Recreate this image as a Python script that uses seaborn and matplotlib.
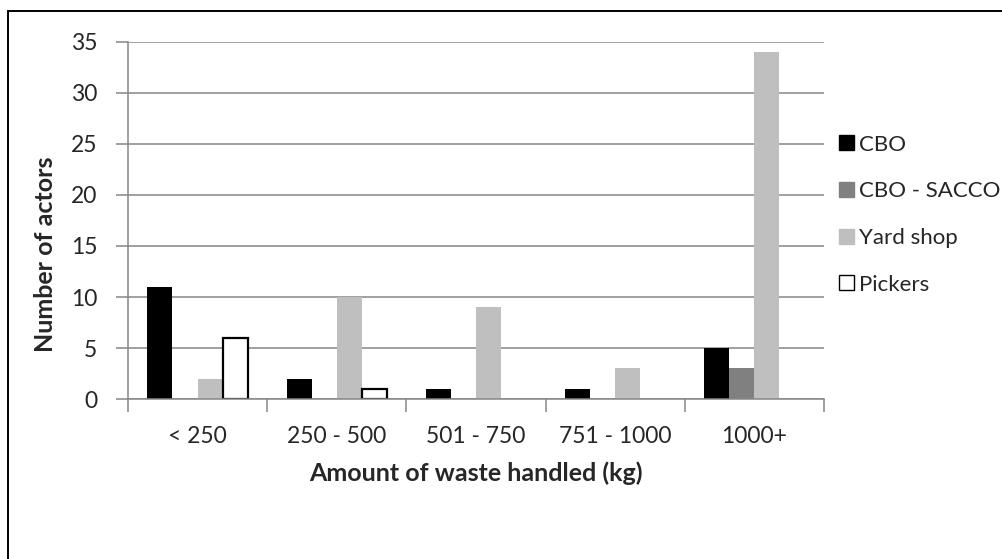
import matplotlib
matplotlib.use("Agg")
import matplotlib.pyplot as plt
from matplotlib.patches import Patch, Rectangle
import pandas as pd
import seaborn as sns

# %% data
categories = ["< 250", "250 - 500", "501 - 750", "751 - 1000", "1000+"]
series = ["CBO", "CBO - SACCO", "Yard shop", "Pickers"]
cbo = [11, 2, 1, 1, 5]
cbo_sacco = [0, 0, 0, 0, 3]
yard_shop = [2, 10, 9, 3, 34]
pickers = [6, 1, 0, 0, 0]
colors = ["#000000", "#808080", "#BFBFBF", "#FFFFFF"]

rows = []
for name, vals in zip(series, [cbo, cbo_sacco, yard_shop, pickers]):
    for cat, v in zip(categories, vals):
        rows.append({"category": cat, "series": name, "count": v})
df = pd.DataFrame(rows)

# %% plot
sns.set_style("white")
plt.rcParams["font.family"] = ["Lato", "DejaVu Sans"]
grey = "#868686"

fig = plt.figure(figsize=(10.02, 5.59), dpi=100)
ax = fig.add_axes([0.1277, 0.2862, 0.6946, 0.6387])

sns.barplot(
    data=df, x="category", y="count", hue="series",
    order=categories, hue_order=series, palette=colors,
    width=0.72, gap=0, linewidth=0, saturation=1, legend=False, ax=ax,
)

# white bars get a black outline (only where there is a bar)
for bar in ax.containers[series.index("Pickers")]:
    if bar.get_height() > 0:
        bar.set_edgecolor("black")
        bar.set_linewidth(1.6)

ax.set_ylim(0, 35)
ax.set_yticks(range(0, 36, 5))
ax.set_xlim(-0.5, len(categories) - 0.5)
ax.yaxis.grid(True, color=grey, linewidth=1.1)
ax.set_axisbelow(True)

# category boundary ticks on x axis
ax.set_xticks([i - 0.5 for i in range(len(categories) + 1)], minor=True)
ax.tick_params(axis="x", which="minor", bottom=True, length=9, width=1.1, color=grey)
ax.tick_params(axis="x", which="major", bottom=False, labelsize=16.5, pad=16)
ax.tick_params(axis="y", left=True, length=9, width=1.1, color=grey, labelsize=16.5, pad=13)

for side in ["top", "right"]:
    ax.spines[side].set_visible(False)
for side in ["left", "bottom"]:
    ax.spines[side].set_color(grey)
    ax.spines[side].set_linewidth(1.1)

ax.set_xlabel("Amount of waste handled (kg)", fontsize=18, fontweight="bold")
ax.xaxis.set_label_coords(0.5, -0.207)
ax.xaxis.label.set_va("center")
ax.set_ylabel("Number of actors", fontsize=18, fontweight="bold")
ax.yaxis.set_label_coords(-0.118, 0.406)
ax.yaxis.label.set_va("center")

handles = [Patch(facecolor=c, edgecolor="black" if c == "#FFFFFF" else c, linewidth=1.0)
           for c in colors]
fig.legend(
    handles, series, loc="upper left", bbox_to_anchor=(0.8373, 0.759),
    frameon=False, fontsize=16, handlelength=0.66, handleheight=0.66,
    handletextpad=0.25, labelspacing=1.2, borderpad=0, borderaxespad=0,
)

# outer chart border
fig.patches.append(Rectangle((0.008, -0.05), 1.1, 1.03, transform=fig.transFigure,
                             fill=False, edgecolor="black", linewidth=1.4))

plt.savefig("out.png", dpi=100)
